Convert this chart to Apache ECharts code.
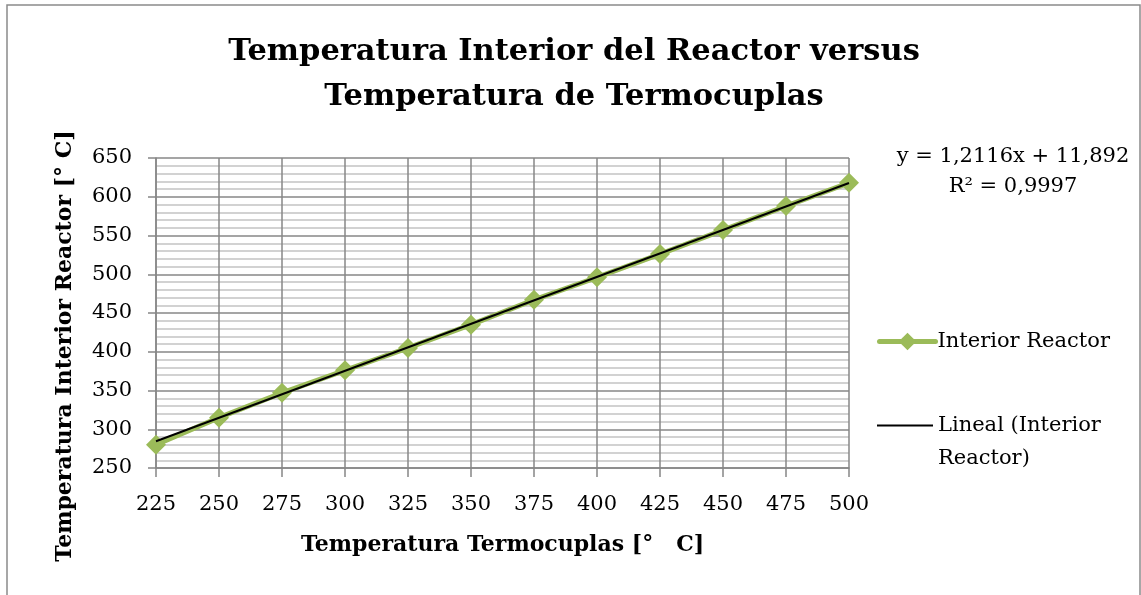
<!DOCTYPE html>
<html>
<head>
<meta charset="utf-8">
<title>Temperatura Interior del Reactor versus Temperatura de Termocuplas</title>
<script src="https://cdn.jsdelivr.net/npm/echarts@6/dist/echarts.min.js"></script>
<style>
  html, body { margin: 0; padding: 0; background: #ffffff; }
  #chart { width: 1141px; height: 595px; }
</style>
</head>
<body>
<div id="chart"></div>
<script>
// Thermocouple readings (°C) and the matching interior reactor temperatures (°C)
const termocuplas = [225, 250, 275, 300, 325, 350, 375, 400, 425, 450, 475, 500];
const interiorReactor = [280, 315, 347, 376, 405, 435, 467, 496, 526, 557, 588, 618];

// Linear fit reported on the chart
const pendiente = 1.2116;
const intercepto = 11.892;
const r2Texto = '0,9997';
const ecuacionTexto = 'y = 1,2116x + 11,892';

const serieNombre = 'Interior Reactor';
const tendenciaNombre = 'Lineal (Interior Reactor)';

const FONT = 'DejaVu Serif';
const GRID_MAJOR = '#878787';
const GRID_MINOR = '#c4c4c4';
const VERDE = '#9BBB59';

const puntos = termocuplas.map((x, i) => [x, interiorReactor[i]]);
const xMin = termocuplas[0];
const xMax = termocuplas[termocuplas.length - 1];
const tendencia = [
  [xMin, pendiente * xMin + intercepto],
  [xMax, pendiente * xMax + intercepto]
];

const chart = echarts.init(document.getElementById('chart'), null, { renderer: 'canvas' });

chart.setOption({
  backgroundColor: '#ffffff',
  animation: false,
  grid: { left: 156, top: 158, right: 292, bottom: 127, containLabel: false },
  legend: [
    {
      orient: 'vertical',
      left: 877,
      top: 331,
      padding: 0,
      itemWidth: 56,
      itemHeight: 22,
      itemGap: 0,
      data: [serieNombre],
      lineStyle: { width: 5, cap: 'round' },
      textStyle: { fontFamily: FONT, fontSize: 21, color: '#000000', padding: [0, 0, 0, -3] }
    },
    {
      orient: 'vertical',
      left: 877,
      top: 376,
      padding: 0,
      itemWidth: 56,
      itemHeight: 2,
      icon: 'rect',
      data: [tendenciaNombre],
      // blank first line keeps "Lineal (Interior" level with the icon
      formatter: () => ' \nLineal (Interior\nReactor)',
      textStyle: { fontFamily: FONT, fontSize: 21, color: '#000000', lineHeight: 33 }
    }
  ],
  xAxis: {
    type: 'value',
    min: 225,
    max: 500,
    interval: 25,
    name: 'Temperatura Termocuplas [°   C]',
    nameLocation: 'middle',
    nameGap: 66,
    nameTextStyle: { fontFamily: FONT, fontWeight: 'bold', fontSize: 22, color: '#000000' },
    axisLine: { lineStyle: { color: GRID_MAJOR, width: 1.5 } },
    axisTick: { show: true, length: 9, lineStyle: { color: GRID_MAJOR, width: 1.5 } },
    axisLabel: { fontFamily: FONT, fontSize: 21, color: '#000000', margin: 26 },
    splitLine: { show: true, lineStyle: { color: GRID_MAJOR, width: 1.5 } }
  },
  yAxis: {
    type: 'value',
    min: 250,
    max: 650,
    interval: 50,
    axisLine: { show: true, lineStyle: { color: GRID_MAJOR, width: 1.5 } },
    axisTick: { show: true, length: 8, lineStyle: { color: GRID_MAJOR, width: 1.5 } },
    axisLabel: { fontFamily: FONT, fontSize: 21, color: '#000000', margin: 24 },
    splitLine: { show: true, lineStyle: { color: GRID_MAJOR, width: 1.5 } },
    minorTick: { show: false, splitNumber: 5 },
    minorSplitLine: { show: true, lineStyle: { color: GRID_MINOR, width: 1.5 } }
  },
  series: [
    {
      name: serieNombre,
      type: 'line',
      data: puntos,
      color: VERDE,
      lineStyle: { color: VERDE, width: 5 },
      itemStyle: { color: VERDE },
      symbol: 'diamond',
      symbolSize: 20,
      z: 2
    },
    {
      name: tendenciaNombre,
      type: 'line',
      data: tendencia,
      color: '#000000',
      lineStyle: { color: '#000000', width: 2 },
      symbol: 'none',
      z: 3
    }
  ],
  graphic: [
    {
      type: 'rect',
      shape: { x: 7, y: 5, width: 1133, height: 600 },
      style: { fill: 'none', stroke: '#8a8a8a', lineWidth: 1.5 },
      silent: true,
      z: -1
    },
    {
      type: 'text',
      x: 574,
      y: 75,
      style: {
        text: 'Temperatura Interior del Reactor versus\nTemperatura de Termocuplas',
        fontFamily: FONT,
        fontWeight: 'bold',
        fontSize: 30.5,
        lineHeight: 45,
        fill: '#000000',
        align: 'center',
        verticalAlign: 'middle'
      }
    },
    {
      type: 'text',
      x: 65,
      y: 346,
      rotation: Math.PI / 2,
      style: {
        text: 'Temperatura Interior Reactor [° C]',
        fontFamily: FONT,
        fontWeight: 'bold',
        fontSize: 22,
        fill: '#000000',
        align: 'center',
        verticalAlign: 'middle'
      }
    },
    {
      type: 'text',
      x: 1013,
      y: 157,
      style: {
        text: ecuacionTexto,
        fontFamily: FONT,
        fontSize: 21,
        fill: '#000000',
        align: 'center',
        verticalAlign: 'middle'
      }
    },
    {
      type: 'text',
      x: 1013,
      y: 187,
      style: {
        text: 'R² = ' + r2Texto,
        fontFamily: FONT,
        fontSize: 21,
        fill: '#000000',
        align: 'center',
        verticalAlign: 'middle'
      }
    }
  ]
});
</script>
</body>
</html>
